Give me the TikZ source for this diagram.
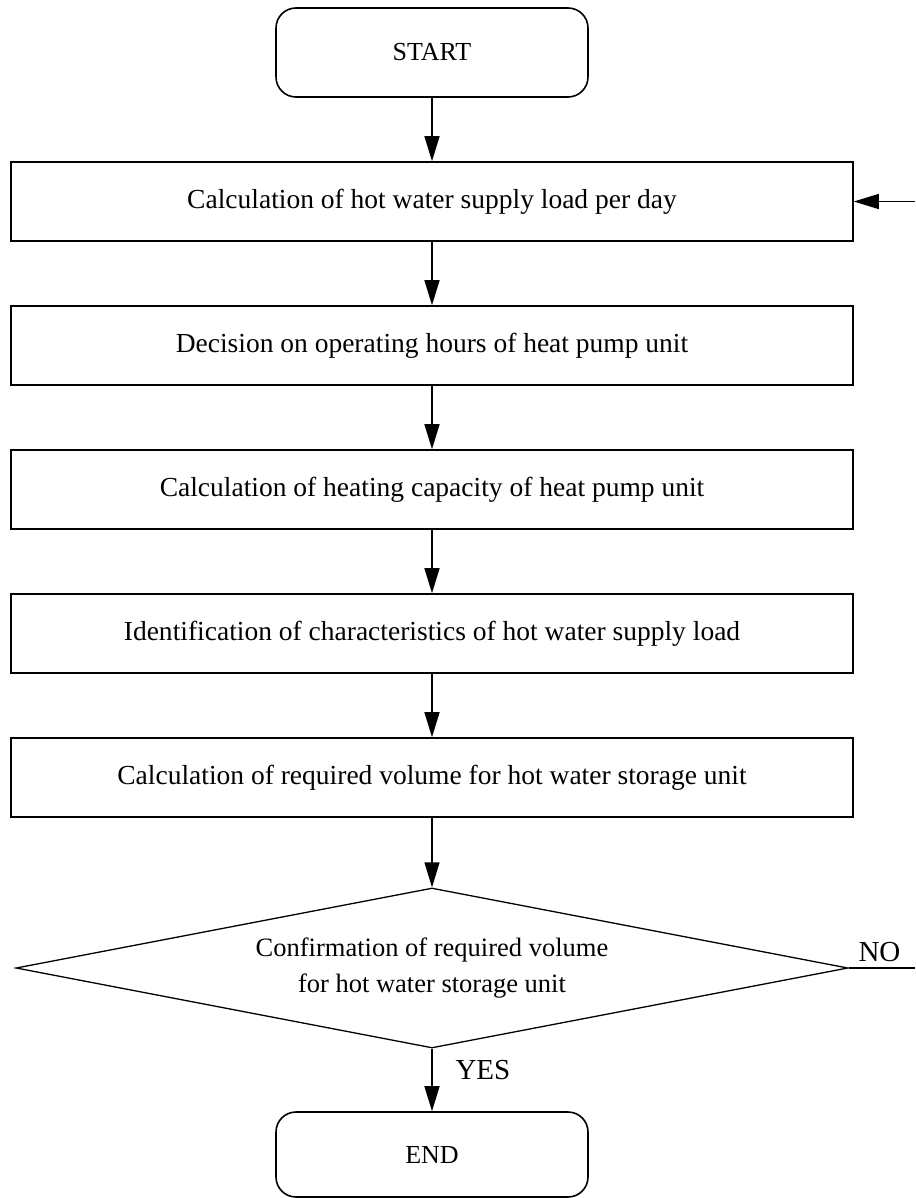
\documentclass[tikz,border=0pt]{standalone}
\usepackage{fontspec}
\setmainfont{Liberation Serif}
\usetikzlibrary{arrows.meta,shapes.geometric}
\begin{document}
\begin{tikzpicture}[x=1pt,y=-1pt,
  every node/.style={font=\fontsize{27.5}{32}\selectfont},
  term/.style={draw,line width=1.6pt,rounded corners=20pt,minimum width=312pt,minimum height=89pt,inner sep=0pt,font=\fontsize{26}{30}\selectfont},
  proc/.style={draw,line width=1.6pt,minimum width=842pt,minimum height=79pt,inner sep=0pt},
  dec/.style={draw,line width=1.3pt,diamond,shape aspect=5.2,minimum width=832pt,minimum height=160pt,inner sep=0pt,align=center,font=\fontsize{26.5}{36}\selectfont},
  lab/.style={font=\fontsize{29}{30}\selectfont},
  arr/.style={line width=1.3pt,-{Triangle[length=25pt,width=15pt]}},
  ln/.style={line width=1.3pt}]
\useasboundingbox (0,0) rectangle (915,1198);
\node[term] (start) at (432,52.5) {START};
\node[proc] (b1) at (432,201.5) {Calculation of hot water supply load per day};
\node[proc] (b2) at (432,345.5) {Decision on operating hours of heat pump unit};
\node[proc] (b3) at (432,489.5) {Calculation of heating capacity of heat pump unit};
\node[proc] (b4) at (432,633.5) {Identification of characteristics of hot water supply load};
\node[proc] (b5) at (432,777.5) {Calculation of required volume for hot water storage unit};
\node[dec] (d) at (432,968) {Confirmation of required volume\\for hot water storage unit};
\node[term,minimum height=85pt] (end) at (432,1154.5) {END};
\coordinate (fb) at (915,201.5);
\coordinate (no) at (915,968);
\draw[arr] (start) -- (b1);
\draw[arr] (b1) -- (b2);
\draw[arr] (b2) -- (b3);
\draw[arr] (b3) -- (b4);
\draw[arr] (b4) -- (b5);
\draw[arr] (b5.south) -- (d.north);
\draw[arr] (d.south) -- (end.north);
\draw[arr] (fb) -- (b1.east);
\draw[ln] (d.east) -- (no);
\node[lab,anchor=south west] (nolab) at (855,965) {NO};
\node[lab,anchor=west] (yeslab) at (452,1070) {YES};
\end{tikzpicture}
\end{document}
